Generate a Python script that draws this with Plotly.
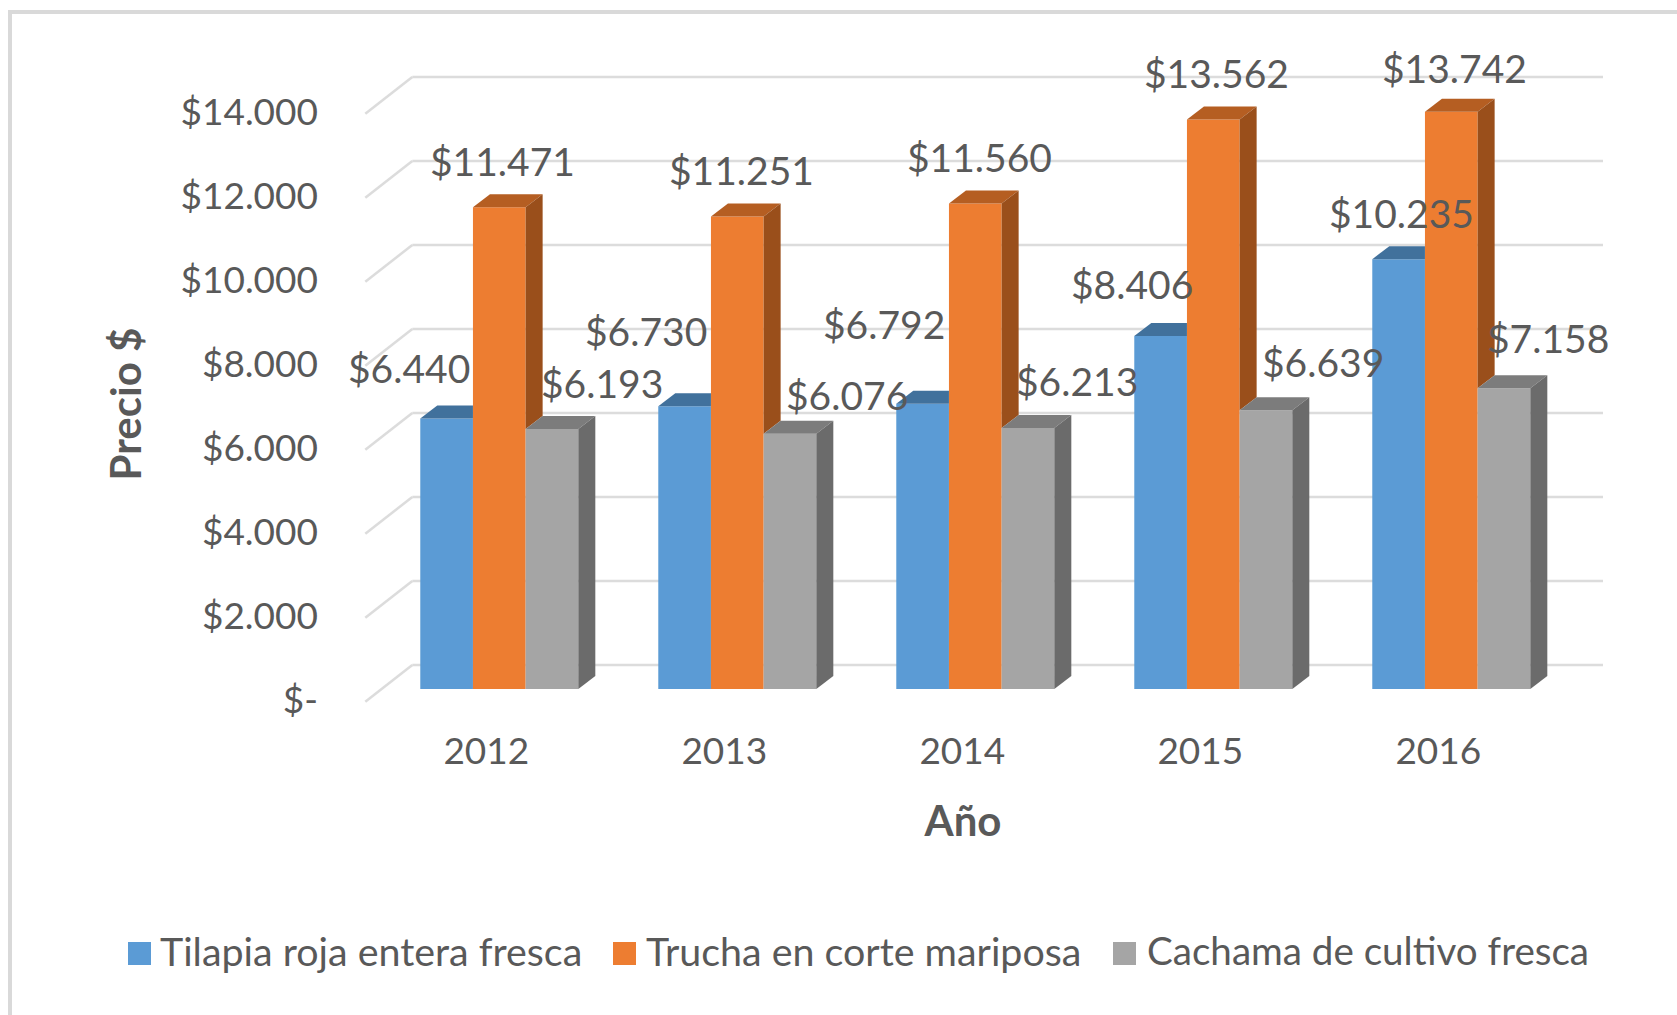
import plotly.graph_objects as go

# ---- data ----
years = [2012, 2013, 2014, 2015, 2016]
tilapia = [6440, 6730, 6792, 8406, 10235]
trucha = [11471, 11251, 11560, 13562, 13742]
cachama = [6193, 6076, 6213, 6639, 7158]
names = ["Tilapia roja entera fresca", "Trucha en corte mariposa", "Cachama de cultivo fresca"]
y_ticks = [0, 2000, 4000, 6000, 8000, 10000, 12000, 14000]
y_labels = ["$-", "$2.000", "$4.000", "$6.000", "$8.000", "$10.000", "$12.000", "$14.000"]

# ---- styles ----
front = ["#5b9bd5", "#ed7d31", "#a5a5a5"]
top = ["#41719c", "#b55e22", "#7c7c7c"]
side = ["#3c6b94", "#9a4f1b", "#6b6b6b"]
grid = "#dcdcdc"
ink = "#595959"
FONT = "Lato"
SIZE = 37
LABEL_SIZE = 39
LEGEND_SIZES = [39.4, 39.4, 38.6]
TITLE_SIZE = 42

# ---- layout geometry (pixels) ----
W, H = 1677, 1015
L, R, T, B = 322, 1604, 60, 748
PX_PER_YEAR = 238.0
PX_PER_UNIT = 0.042
X0_PX = 499.3      # centre of the 2012 group
Y0_PX = 689.0      # bar base
BAR_DX, BAR_DY = 17 / PX_PER_YEAR, 13 / PX_PER_UNIT      # depth of a bar
BACK_DX, BACK_DY = -87 / PX_PER_YEAR, 24 / PX_PER_UNIT   # back wall, from the bar base
FRONT_DX, FRONT_DY = -134 / PX_PER_YEAR, -12.7 / PX_PER_UNIT  # floor front edge
GRID_END = years[0] + (1603 - X0_PX) / PX_PER_YEAR
BARGAP = 0.336
bw = (1 - BARGAP) / 3

x_range = [years[0] + (L - X0_PX) / PX_PER_YEAR, years[0] + (R - X0_PX) / PX_PER_YEAR]
y_range = [(Y0_PX - B) / PX_PER_UNIT, (Y0_PX - T) / PX_PER_UNIT]

series = [tilapia, trucha, cachama]
fig = go.Figure()

# front faces
for name, vals, col in zip(names, series, front):
    fig.add_trace(go.Bar(x=years, y=vals, name=name, marker=dict(color=col, line=dict(width=0)),
                         showlegend=False, hoverinfo="x+y"))


def poly(xs, ys, color):
    fig.add_trace(go.Scatter(x=xs + xs[:1], y=ys + ys[:1], mode="lines", fill="toself", fillcolor=color,
                             line=dict(width=0, color=color), showlegend=False, hoverinfo="skip"))


# top and side faces, cut where the neighbouring bar hides them
for s, vals in enumerate(series):
    for i, year in enumerate(years):
        left = year + (s - 1.5) * bw
        right = left + bw
        v = vals[i]
        nxt = series[s + 1][i] if s < 2 else None
        if nxt is not None and nxt >= v:   # next bar is taller: only the part up to it shows
            poly([left, left + BAR_DX, right, right], [v, v + BAR_DY, v + BAR_DY, v], top[s])
        else:
            poly([left, left + BAR_DX, right + BAR_DX, right], [v, v + BAR_DY, v + BAR_DY, v], top[s])
            floor = nxt if nxt is not None else 0
            poly([right, right + BAR_DX, right + BAR_DX, right],
                 [v, v + BAR_DY, floor + BAR_DY, floor], side[s])

# back wall grid lines and their slanted run to the front, behind the bars
shapes = []
for t in y_ticks:
    xa, xb, xc = years[0] + FRONT_DX, years[0] + BACK_DX, GRID_END
    ya, yb = t + FRONT_DY, t + BACK_DY
    shapes.append(dict(type="line", xref="x", yref="y", x0=xa, y0=ya, x1=xb, y1=yb, layer="below",
                       line=dict(color=grid, width=2.5)))
    shapes.append(dict(type="line", xref="x", yref="y", x0=xb, y0=yb, x1=xc, y1=yb, layer="below",
                       line=dict(color=grid, width=2.5)))


def px(x):
    return (x - L) / (R - L)


def py(y):
    return (B - y) / (B - T)


# outer frame: only the top and left edges are visible in the reference
shapes.append(dict(type="line", xref="paper", yref="paper", x0=px(10), x1=px(10), y0=py(10), y1=py(H),
                   line=dict(color="#d9d9d9", width=4)))
shapes.append(dict(type="line", xref="paper", yref="paper", x0=px(8), x1=px(W), y0=py(12), y1=py(12),
                   line=dict(color="#d9d9d9", width=4)))

# data labels: pixel offsets from the top centre of each bar
label_dx = [[-38, -38.5, -39, -29, 3], [3, 4, 4, 3, 3], [50, 57, 49, 57, 44]]
label_dy = [[51, 75.5, 79.4, 52, 46], [46, 46, 46, 46, 44], [46, 39, 47, 48, 50]]
ann = []
for s, vals in enumerate(series):
    for i, year in enumerate(years):
        v = vals[i]
        ann.append(dict(x=year + (s - 1) * bw, y=v, xref="x", yref="y", showarrow=False,
                        text="$" + f"{v:,}".replace(",", "."), xshift=label_dx[s][i], yshift=label_dy[s][i],
                        font=dict(family=FONT, size=LABEL_SIZE, color=ink)))

# legend
swatch_x = [128, 613, 1113]
text_x = [158, 644, 1145]
for name, col, sx, tx, fs in zip(names, front, swatch_x, text_x, LEGEND_SIZES):
    shapes.append(dict(type="rect", xref="paper", yref="paper", x0=px(sx), x1=px(sx + 23),
                       y0=py(965), y1=py(942), fillcolor=col, line=dict(width=0)))
    ann.append(dict(xref="paper", yref="paper", x=px(tx), y=py(950), xanchor="left", yanchor="middle",
                    showarrow=False, text=name, font=dict(family=FONT, size=fs, color=ink)))

fig.update_layout(
    width=W, height=H, margin=dict(l=L, r=W - R, t=T, b=H - B, pad=0),
    paper_bgcolor="white", plot_bgcolor="rgba(0,0,0,0)",
    barmode="group", bargap=BARGAP, bargroupgap=0,
    showlegend=False, shapes=shapes, annotations=ann,
    font=dict(family=FONT, size=SIZE, color=ink),
    xaxis=dict(range=x_range, tickvals=years, ticktext=[str(y) for y in years], showgrid=False, zeroline=False,
               showline=False, ticks="", ticklabelshift=-13, ticklabelstandoff=-22,
               title=dict(text="<b>Año</b>", standoff=35, font=dict(family=FONT, size=TITLE_SIZE, color=ink))),
    yaxis=dict(range=y_range, tickvals=y_ticks, ticktext=y_labels, showgrid=False, zeroline=False,
               showline=False, ticks="", ticklabelshift=11, ticklabelstandoff=3,
               title=dict(text="<b>Precio $</b>", standoff=25, font=dict(family=FONT, size=TITLE_SIZE, color=ink))),
)

fig.write_html("out.html", config=dict(displayModeBar=False),
               post_script="document.body.style.margin='0';document.body.style.overflow='hidden';")
